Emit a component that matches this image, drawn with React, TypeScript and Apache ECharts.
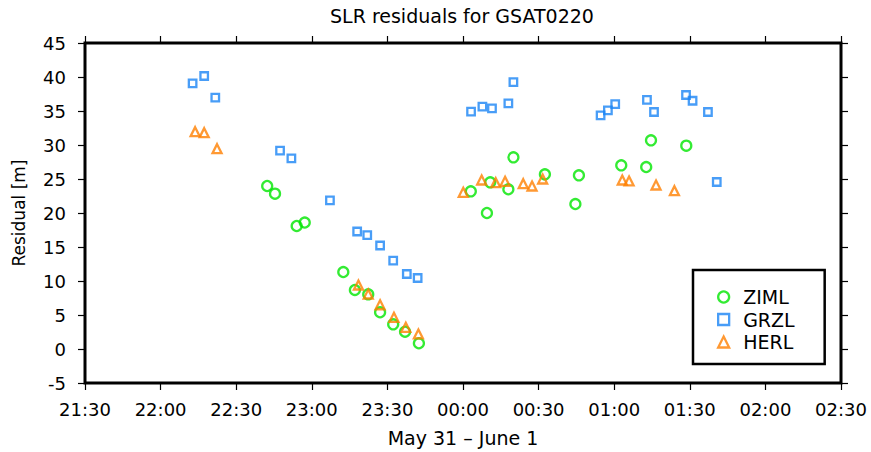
import React, { useEffect, useRef } from "react";
import * as echarts from "echarts";

const FONT = "DejaVu Sans";

// X tick labels come from the axis formatter (21:30 ... 02:30, every 30 min)
const xTickMin = "21:30";
const xTickMax = "02:30";

const zimlTimes = [
  "22:42:18", "22:45:24", "22:54:00", "22:57:12", "23:12:30", "23:17:06", "23:22:24", "23:27:06",
  "23:32:18", "23:37:00", "23:42:30", "00:03:06", "00:09:30", "00:10:48", "00:18:00", "00:20:00",
  "00:32:30", "00:44:36", "00:46:00", "01:02:48", "01:12:42", "01:14:36", "01:28:36",
];
const zimlValues = [
  23.97, 22.84, 18.09, 18.6, 11.32, 8.68, 8.04, 5.4,
  3.63, 2.54, 0.84, 23.19, 20.0, 24.51, 23.49, 28.19,
  25.69, 21.32, 25.54, 27.01, 26.76, 30.69, 29.9,
];

const grzlTimes = [
  "22:12:42", "22:17:18", "22:21:42", "22:47:24", "22:51:54", "23:07:12", "23:18:00", "23:22:00",
  "23:27:06", "23:32:18", "23:37:42", "23:42:00", "00:03:12", "00:07:42", "00:11:30", "00:18:00",
  "00:20:00", "00:54:36", "00:57:30", "01:00:24", "01:13:00", "01:15:48", "01:28:30", "01:31:06",
  "01:37:12", "01:40:42",
];
const grzlValues = [
  39.07, 40.15, 36.96, 29.16, 28.04, 21.87, 17.28, 16.76,
  15.22, 12.99, 11.03, 10.44, 34.9, 35.63, 35.4, 36.13,
  39.26, 34.37, 35.1, 36.0, 36.65, 34.85, 37.35, 36.51,
  34.85, 24.56,
];

const herlTimes = [
  "22:13:42", "22:17:18", "22:22:24", "23:18:30", "23:22:24", "23:27:06", "23:32:36", "23:37:18",
  "23:42:18", "00:00:06", "00:07:24", "00:13:00", "00:16:42", "00:23:54", "00:27:24", "00:31:36",
  "01:03:12", "01:05:54", "01:16:36", "01:23:54",
];
const herlValues = [
  31.96, 31.81, 29.46, 9.41, 8.09, 6.51, 4.66, 3.19,
  2.21, 23.04, 24.85, 24.46, 24.66, 24.31, 23.97, 25.0,
  24.85, 24.71, 24.12, 23.28,
];

const yMin = -5;
const yMax = 45;
const yStep = 5;
const xStepMinutes = 30;

// minutes since May 31 00:00 (times before noon belong to June 1)
function toMinutes(t: string): number {
  const [h, m, s] = t.split(":").map(Number);
  const mins = h * 60 + m + (s || 0) / 60;
  return h < 12 ? mins + 1440 : mins;
}
function fmt(v: number): string {
  const m = Math.round(((v % 1440) + 1440) % 1440);
  const hh = Math.floor(m / 60);
  const mm = m % 60;
  return String(hh).padStart(2, "0") + ":" + String(mm).padStart(2, "0");
}
function pairs(times: string[], values: number[]) {
  return times.map((t, i) => [toMinutes(t), values[i]]);
}

export default function App() {
  const ref = useRef<HTMLDivElement>(null);
  useEffect(() => {
    document.body.style.margin = "0";
    const chart = echarts.init(ref.current!, null, { renderer: "svg" });
    const xMin = toMinutes(xTickMin + ":00");
    const xMax = toMinutes(xTickMax + ":00");
    const tickStyle = { show: true, inside: false, length: 7, lineStyle: { color: "#000", width: 1.2 } };
    const labelFont = { fontFamily: FONT, fontSize: 18, color: "#000" };
    const hiddenLine = { show: false, onZero: false };
    chart.setOption({
      animation: false,
      backgroundColor: "#fff",
      title: {
        text: "SLR residuals for GSAT0220",
        left: 330,
        top: 6,
        padding: 0,
        textStyle: { fontFamily: FONT, fontSize: 19, fontWeight: "normal", color: "#000" },
      },
      grid: {
        left: 85,
        right: 30,
        top: 43,
        bottom: 69,
        show: true,
        borderColor: "#000",
        borderWidth: 3,
        backgroundColor: "transparent",
      },
      legend: {
        orient: "vertical",
        left: 693,
        top: 270,
        padding: [17, 30, 12, 24],
        itemGap: 2.5,
        itemWidth: 11,
        itemHeight: 11,
        borderColor: "#000",
        borderWidth: 2.5,
        backgroundColor: "#fff",
        itemStyle: { borderWidth: 2.3 },
        textStyle: { fontFamily: FONT, fontSize: 19, color: "#000", lineHeight: 20, padding: [0, 0, 0, 9] },
        data: [
          { name: "ZIML", icon: "circle" },
          { name: "GRZL", icon: "path://M1,1L9,1L9,9L1,9Z" },
          { name: "HERL", icon: "path://M5,0.5L9.5,9.5L0.5,9.5Z" },
        ],
      },
      xAxis: [
        {
          type: "value",
          position: "bottom",
          min: xMin,
          max: xMax,
          interval: xStepMinutes,
          axisLine: hiddenLine,
          axisTick: tickStyle,
          splitLine: { show: false },
          axisLabel: { ...labelFont, margin: 17, formatter: (v: number) => fmt(v) },
          name: "May 31 \u2013 June 1",
          nameLocation: "middle",
          nameGap: 45,
          nameTextStyle: { fontFamily: FONT, fontSize: 19, color: "#000" },
        },
        {
          type: "value",
          position: "top",
          min: xMin,
          max: xMax,
          interval: xStepMinutes,
          axisLine: hiddenLine,
          axisTick: tickStyle,
          splitLine: { show: false },
          axisLabel: { show: false },
        },
      ],
      yAxis: [
        {
          type: "value",
          position: "left",
          min: yMin,
          max: yMax,
          interval: yStep,
          axisLine: hiddenLine,
          axisTick: tickStyle,
          splitLine: { show: false },
          axisLabel: { ...labelFont, margin: 19 },
          name: "Residual [m]",
          nameLocation: "middle",
          nameGap: 58,
          nameTextStyle: { fontFamily: FONT, fontSize: 17, color: "#000" },
        },
        {
          type: "value",
          position: "right",
          min: yMin,
          max: yMax,
          interval: yStep,
          axisLine: hiddenLine,
          axisTick: tickStyle,
          splitLine: { show: false },
          axisLabel: { show: false },
        },
      ],
      series: [
        {
          name: "ZIML",
          type: "scatter",
          symbol: "circle",
          symbolSize: 10,
          itemStyle: { color: "rgba(0,0,0,0)", borderColor: "#00e600", borderWidth: 2.3 },
          data: pairs(zimlTimes, zimlValues),
        },
        {
          name: "GRZL",
          type: "scatter",
          symbol: "rect",
          symbolSize: 7.5,
          itemStyle: { color: "rgba(0,0,0,0)", borderColor: "#1a84f5", borderWidth: 2.3 },
          data: pairs(grzlTimes, grzlValues),
        },
        {
          name: "HERL",
          type: "scatter",
          symbol: "triangle",
          symbolSize: 9,
          itemStyle: { color: "rgba(0,0,0,0)", borderColor: "#ff8000", borderWidth: 2.3 },
          data: pairs(herlTimes, herlValues),
        },
      ],
    });
    return () => chart.dispose();
  }, []);
  return <div ref={ref} style={{ width: 871, height: 452 }} />;
}
